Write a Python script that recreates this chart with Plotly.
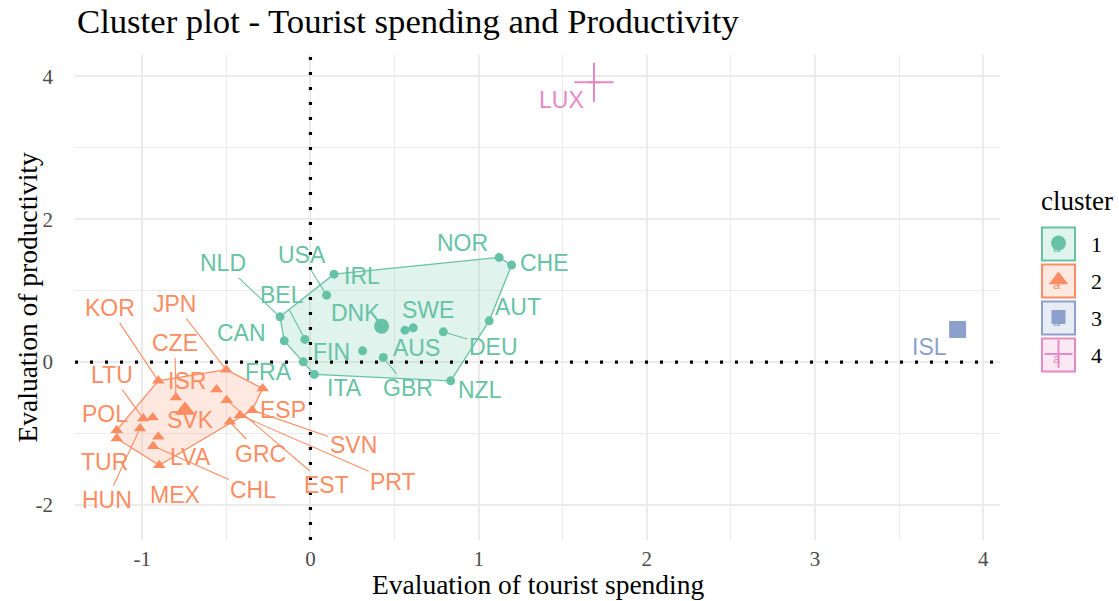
import plotly.graph_objects as go

W, H = 1119, 601

# ---------------- data ----------------
CLUSTERS = ["1", "2", "3", "4"]

C1_NAMES = ["NOR", "CHE", "IRL", "USA", "NLD", "BEL", "CAN", "FRA", "ITA",
            "FIN", "DNK", "AUS", "SWE", "GBR", "DEU", "AUT", "NZL"]
C1_X = [1.122, 1.196, 0.140, 0.096, -0.181, -0.033, -0.156, -0.043, 0.023,
        0.310, 0.423, 0.562, 0.611, 0.433, 0.790, 1.063, 0.834]
C1_Y = [1.466, 1.359, 1.232, 0.938, 0.634, 0.318, 0.298, 0.004, -0.172,
        0.158, 0.504, 0.448, 0.480, 0.066, 0.424, 0.578, -0.262]

C2_NAMES = ["KOR", "JPN", "CZE", "ISR", "EST", "ESP", "SVK", "LTU", "POL",
            "TUR", "HUN", "LVA", "CHL", "MEX", "SVN", "PRT", "GRC"]
C2_X = [-0.905, -0.501, -0.800, -0.558, -0.498, -0.284, -0.938, -0.994, -1.152,
        -1.152, -1.014, -0.905, -0.935, -0.899, -0.346, -0.419, -0.479]
C2_Y = [-0.262, -0.106, -0.494, -0.382, -0.532, -0.368, -0.775, -0.789, -0.952,
        -1.069, -0.929, -1.046, -1.176, -1.443, -0.672, -0.742, -0.836]

C3_NAMES = ["ISL"]
C3_X = [3.848]
C3_Y = [0.458]

C4_NAMES = ["LUX"]
C4_X = [1.686]
C4_Y = [3.917]

CENTER_X = [0.423, -0.746, 3.848, 1.686]
CENTER_Y = [0.504, -0.672, 0.458, 3.917]

X_TICKS = [-1, 0, 1, 2, 3, 4]
Y_TICKS = [-2, 0, 2, 4]

TITLE = "Cluster plot - Tourist spending and Productivity"
X_TITLE = "Evaluation of tourist spending"
Y_TITLE = "Evaluation of productivity"
LEGEND_TITLE = "cluster"

# ---------------- layout / style (not data) ----------------
X_RANGE = [-1.40, 4.10]
Y_RANGE = [-2.49, 4.30]
COLORS = ["#66C2A5", "#FC8D62", "#8DA0CB", "#E78AC3"]
FILLS = ["rgba(102,194,165,0.2)", "rgba(252,141,98,0.2)",
         "rgba(141,160,203,0.2)", "rgba(231,138,195,0.2)"]
SYMBOLS = ["circle", "triangle-up", "square", "cross-thin"]
PT_SIZE = [9, 11, 9, 10]
CEN_SIZE = [15, 18, 17, 28]

# label placement (data coords) and whether a repel segment is drawn
LABEL_POS = {
    "NOR": (0.905, 1.671, False), "CHE": (1.394, 1.391, False),
    "USA": (-0.052, 1.499, True), "NLD": (-0.518, 1.382, True),
    "IRL": (0.304, 1.204, False), "BEL": (-0.171, 0.938, True),
    "DNK": (0.265, 0.682, False), "SWE": (0.700, 0.728, False),
    "AUT": (1.235, 0.766, False), "CAN": (-0.409, 0.402, False),
    "FIN": (0.126, 0.144, False), "AUS": (0.631, 0.192, False),
    "DEU": (1.087, 0.214, True), "FRA": (-0.251, -0.136, False),
    "ITA": (0.205, -0.368, False), "GBR": (0.581, -0.368, True),
    "NZL": (1.008, -0.392, False),
    "KOR": (-1.192, 0.752, True), "JPN": (-0.806, 0.812, True),
    "CZE": (-0.806, 0.262, True), "ISR": (-0.736, -0.266, False),
    "LTU": (-1.182, -0.182, True), "POL": (-1.222, -0.728, False),
    "SVK": (-0.716, -0.812, False), "ESP": (-0.162, -0.672, False),
    "TUR": (-1.222, -1.396, False), "LVA": (-0.716, -1.326, False),
    "GRC": (-0.300, -1.279, True), "SVN": (0.254, -1.162, True),
    "HUN": (-1.212, -1.933, True), "MEX": (-0.806, -1.863, False),
    "CHL": (-0.340, -1.793, True), "EST": (0.096, -1.723, True),
    "PRT": (0.492, -1.676, True),
    "ISL": (3.683, 0.214, False), "LUX": (1.493, 3.669, False),
}

GROUPS = [(C1_NAMES, C1_X, C1_Y), (C2_NAMES, C2_X, C2_Y),
          (C3_NAMES, C3_X, C3_Y), (C4_NAMES, C4_X, C4_Y)]

SERIF = "Liberation Serif"
SANS = "Liberation Sans"


def convex_hull(xs, ys):
    pts = sorted(set(zip(xs, ys)))
    if len(pts) < 3:
        return pts

    def cross(o, a, b):
        return (a[0] - o[0]) * (b[1] - o[1]) - (a[1] - o[1]) * (b[0] - o[0])

    lower, upper = [], []
    for p in pts:
        while len(lower) >= 2 and cross(lower[-2], lower[-1], p) <= 0:
            lower.pop()
        lower.append(p)
    for p in reversed(pts):
        while len(upper) >= 2 and cross(upper[-2], upper[-1], p) <= 0:
            upper.pop()
        upper.append(p)
    return lower[:-1] + upper[:-1]


fig = go.Figure()

# hulls
for i, (names, xs, ys) in enumerate(GROUPS):
    hull = convex_hull(xs, ys)
    if len(hull) >= 3:
        hx = [p[0] for p in hull] + [hull[0][0]]
        hy = [p[1] for p in hull] + [hull[0][1]]
        fig.add_trace(go.Scatter(x=hx, y=hy, mode="lines", fill="toself",
                                 fillcolor=FILLS[i],
                                 line=dict(color=COLORS[i], width=1.3),
                                 hoverinfo="skip", showlegend=False))

# dotted reference lines at 0 (span the full axis ranges)
DOT = dict(color="black", width=3.2, dash="3px,12px")
fig.add_trace(go.Scatter(x=[0, 0], y=Y_RANGE, mode="lines", line=DOT,
                         hoverinfo="skip", showlegend=False))
fig.add_trace(go.Scatter(x=X_RANGE, y=[0, 0], mode="lines", line=DOT,
                         hoverinfo="skip", showlegend=False))

# points
for i, (names, xs, ys) in enumerate(GROUPS):
    fig.add_trace(go.Scatter(
        x=xs, y=ys, mode="markers", text=names, showlegend=False,
        marker=dict(symbol=SYMBOLS[i], size=PT_SIZE[i], color=COLORS[i],
                    line=dict(color=COLORS[i], width=2 if i == 3 else 0))))

# cluster centres
for i in range(4):
    fig.add_trace(go.Scatter(
        x=[CENTER_X[i]], y=[CENTER_Y[i]], mode="markers", showlegend=False,
        marker=dict(symbol=SYMBOLS[i], size=CEN_SIZE[i], color=COLORS[i],
                    line=dict(color=COLORS[i], width=2 if i == 3 else 0))))

# labels
annotations = []
for i, (names, xs, ys) in enumerate(GROUPS):
    for n, x, y in zip(names, xs, ys):
        lx, ly, seg = LABEL_POS[n]
        font = dict(family=SANS, size=23, color=COLORS[i])
        if seg:
            annotations.append(dict(x=x, y=y, xref="x", yref="y",
                                    ax=lx, ay=ly, axref="x", ayref="y",
                                    text=n, showarrow=True, arrowhead=0,
                                    arrowwidth=1.1, arrowcolor=COLORS[i],
                                    standoff=3, font=font))
        else:
            annotations.append(dict(x=lx, y=ly, xref="x", yref="y", text=n,
                                    showarrow=False, font=font))


def fx(px):
    return px / W


def fy(py):
    return 1 - py / H


annotations += [
    dict(x=fx(75), y=fy(22), xref="paper", yref="paper", xanchor="left",
         yanchor="middle", text=TITLE, showarrow=False,
         font=dict(family=SERIF, size=34.7, color="black")),
    dict(x=fx(537.5), y=fy(584), xref="paper", yref="paper", xanchor="center",
         yanchor="middle", text=X_TITLE, showarrow=False,
         font=dict(family=SERIF, size=27.5, color="black")),
    dict(x=fx(27), y=fy(297.5), xref="paper", yref="paper", xanchor="center",
         yanchor="middle", text=Y_TITLE, showarrow=False, textangle=-90,
         font=dict(family=SERIF, size=27.5, color="black")),
]

# ---------------- custom legend (pixel-coordinate overlay axes) ----------------
LEG_CX = 1058.5
LEG_CY = [244, 281, 318, 355]
LEG_HALF = 16.5
shapes = []
for i in range(4):
    shapes.append(dict(type="rect", xref="x2", yref="y2",
                       x0=LEG_CX - LEG_HALF, x1=LEG_CX + LEG_HALF,
                       y0=LEG_CY[i] - LEG_HALF, y1=LEG_CY[i] + LEG_HALF,
                       line=dict(color=COLORS[i], width=2),
                       fillcolor=FILLS[i], layer="below"))
    annotations.append(dict(x=1089, y=LEG_CY[i], xref="x2", yref="y2",
                            xanchor="left", yanchor="middle",
                            text=CLUSTERS[i], showarrow=False,
                            font=dict(family=SERIF, size=22, color="black")))
annotations.append(dict(x=1039, y=201, xref="x2", yref="y2", xanchor="left",
                        yanchor="middle", text=LEGEND_TITLE, showarrow=False,
                        font=dict(family=SERIF, size=27, color="black")))

fig.add_trace(go.Scatter(
    x=[LEG_CX - 2] * 4, y=[c + 5 for c in LEG_CY], mode="text", text=["a"] * 4,
    textfont=dict(family=SANS, size=13, color=COLORS), xaxis="x2", yaxis="y2",
    showlegend=False, hoverinfo="skip", cliponaxis=False))
LEG_SIZE = [15, 17, 14, 20]
for i in range(4):
    fig.add_trace(go.Scatter(
        x=[LEG_CX], y=[LEG_CY[i] - 1], mode="markers", xaxis="x2", yaxis="y2",
        showlegend=False, hoverinfo="skip", cliponaxis=False,
        marker=dict(symbol=SYMBOLS[i], size=LEG_SIZE[i], color=COLORS[i],
                    line=dict(color=COLORS[i], width=2 if i == 3 else 0))))

grid_major = "#EBEBEB"
fig.update_layout(
    width=W, height=H,
    margin=dict(l=0, r=0, t=0, b=0),
    paper_bgcolor="white", plot_bgcolor="white",
    showlegend=False,
    xaxis=dict(domain=[75 / W, 1000 / W], range=X_RANGE,
               tickmode="array", tickvals=X_TICKS,
               ticktext=[str(v) for v in X_TICKS],
               showgrid=True, gridcolor=grid_major, gridwidth=1.8,
               minor=dict(tickmode="array", tickvals=[-0.5, 0.5, 1.5, 2.5, 3.5],
                          showgrid=True, gridcolor=grid_major, gridwidth=1.1),
               zeroline=False, showline=False, ticks="",
               ticklabelstandoff=4,
               tickfont=dict(family=SERIF, size=21, color="#4D4D4D")),
    yaxis=dict(domain=[1 - 540 / H, 1 - 55 / H], range=Y_RANGE,
               tickmode="array", tickvals=Y_TICKS,
               ticktext=[str(v) for v in Y_TICKS],
               showgrid=True, gridcolor=grid_major, gridwidth=1.8,
               minor=dict(tickmode="array", tickvals=[-1, 1, 3],
                          showgrid=True, gridcolor=grid_major, gridwidth=1.1),
               zeroline=False, showline=False, ticks="",
               ticklabelstandoff=21,
               tickfont=dict(family=SERIF, size=21, color="#4D4D4D")),
    xaxis2=dict(domain=[0.9, 1.0], range=[0.9 * W, W], visible=False,
                anchor="y2", fixedrange=True),
    yaxis2=dict(domain=[0, 1], range=[H, 0], visible=False,
                anchor="x2", fixedrange=True),
    shapes=shapes,
    annotations=annotations,
)

fig.write_html("out.html",
               config={"displayModeBar": False},
               post_script="document.body.style.margin='0';"
                           "document.body.style.overflow='hidden';")
